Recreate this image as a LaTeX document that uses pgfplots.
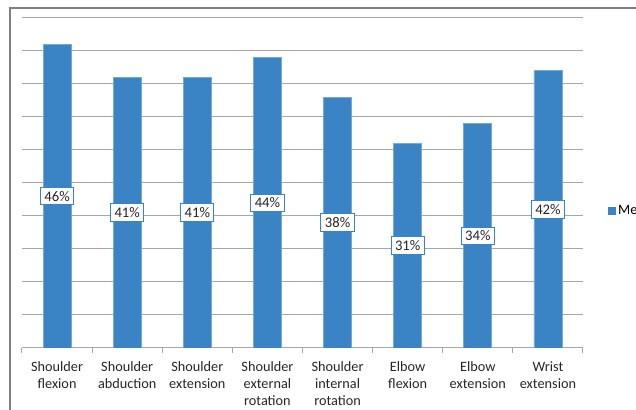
\documentclass[border=0pt]{standalone}
\usepackage{pgfplots}
\pgfplotsset{compat=1.18}
\usepackage{fontspec}
\setmainfont{Carlito}
\definecolor{barblue}{HTML}{3A84C6}
\definecolor{gridgray}{HTML}{A6A6A6}
\definecolor{framegray}{HTML}{7F7F7F}
\begin{document}
\begin{tikzpicture}
\path[use as bounding box] (0pt,0pt) rectangle (477pt,307.5pt);
\draw[framegray, line width=1.6pt] (7.5pt,301.5pt) rectangle (490pt,-10pt);
\begin{axis}[
  at={(16.5pt,46.5pt)}, anchor=south west,
  scale only axis, width=420.75pt, height=247.5pt,
  xmin=-0.5, xmax=7.5, ymin=0, ymax=50,
  axis x line*=bottom, axis y line*=left,
  x axis line style={gridgray, line width=0.75pt, -},
  y axis line style={draw=none},
  ytick={0,5,...,50}, yticklabels={}, ymajorgrids,
  major grid style={gridgray, line width=0.75pt},
  xtick={0,...,7},
  xticklabels={{Shoulder\\flexion},{Shoulder\\abduction},{Shoulder\\extension},{Shoulder\\external\\rotation},{Shoulder\\internal\\rotation},{Elbow\\flexion},{Elbow\\extension},{Wrist\\extension}},
  xticklabel style={align=center, font=\fontsize{10.7pt}{12.75pt}\selectfont, text=black!85, yshift=-7pt},
  major tick length=0pt,
  minor xtick={-0.5,0.5,...,7.5},
  minor tick length=3.75pt, tick align=outside,
  minor tick style={gridgray, line width=0.75pt},
  legend style={at={(1.044,0.415)}, anchor=west, draw=none, fill=none,
    font=\fontsize{10.7pt}{12.75pt}\selectfont, inner sep=0pt,
    legend cell align=left},
  legend image code/.code={\fill[barblue] (0pt,-2.6pt) rectangle (5.2pt,2.6pt);},
  /pgf/number format/assume math mode=true,
]
\addplot[ybar, bar width=0.4, fill=barblue, draw=barblue!70!white, line width=0.5pt,
  visualization depends on={y/2 \as \halfy},
  nodes near coords={\pgfmathprintnumber[assume math mode=true]{\pgfplotspointmeta}\%},
  every node near coord/.append style={anchor=center, shift={(axis direction cs:0,-\halfy)},
    draw=barblue, fill=white, line width=0.75pt, inner xsep=3pt, inner ysep=2.8pt, text=black!85,
    font=\fontsize{11pt}{13pt}\selectfont},
] coordinates {(0,46) (1,41) (2,41) (3,44) (4,38) (5,31) (6,34) (7,42)};
\addlegendentry{Mean}
\end{axis}
\end{tikzpicture}
\end{document}
